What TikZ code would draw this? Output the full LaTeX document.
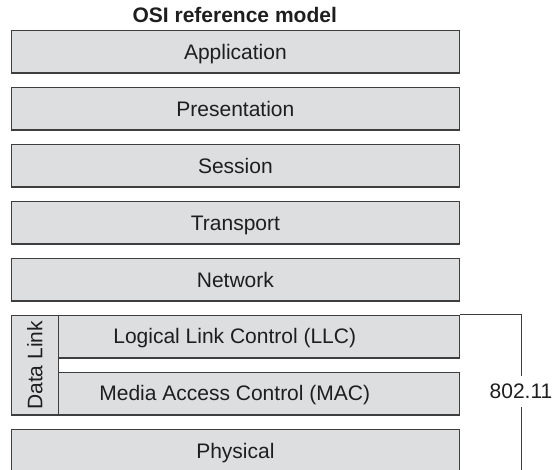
\documentclass[tikz,border=0pt]{standalone}
\usepackage{fontspec}
\setmainfont{Liberation Sans}
\definecolor{layerfill}{RGB}{221,222,224}
\definecolor{layerdraw}{RGB}{62,62,62}
\definecolor{txtcol}{RGB}{30,30,30}
\definecolor{brkcol}{RGB}{60,60,60}
\begin{document}
\begin{tikzpicture}[x=1pt,y=-1pt,
  font=\fontsize{21}{25}\selectfont,
  layer/.style={draw=layerdraw, fill=layerfill, line width=1.3pt, rectangle,
    anchor=north west, minimum height=42.5pt, inner sep=0pt},
  txt/.style={text=txtcol, text height=15pt, text depth=0pt, inner sep=0pt},
  brk/.style={draw=brkcol, line width=1pt}]
\useasboundingbox (0,0) rectangle (555,470);
\node[txt, font=\fontsize{21}{25}\selectfont\bfseries, anchor=base] (title) at (234.75,22.7) {OSI reference model};
\node[layer, minimum width=448.5pt] (app) at (10.5,30) {};
\node[txt] (appt) at (app.center) {Application};
\node[layer, minimum width=448.5pt] (pres) at (10.5,87) {};
\node[txt] (prest) at (pres.center) {Presentation};
\node[layer, minimum width=448.5pt] (sess) at (10.5,144) {};
\node[txt] (sesst) at (sess.center) {Session};
\node[layer, minimum width=448.5pt] (trans) at (10.5,201) {};
\node[txt] (transt) at (trans.center) {Transport};
\node[layer, minimum width=448.5pt] (net) at (10.5,258) {};
\node[txt] (nett) at (net.center) {Network};
\node[layer, minimum width=47.5pt, minimum height=99.5pt] (dl) at (10.5,315) {};
\node[txt, rotate=90] (dlt) at (dl.center) {Data Link};
\node[layer, minimum width=401pt] (llc) at (58,315) {};
\node[txt] (llct) at (234.75,336.25) {Logical Link Control (LLC)};
\node[layer, minimum width=401pt] (mac) at (58,372) {};
\node[txt] (mact) at (234.75,393.25) {Media Access Control (MAC)};
\node[layer, minimum width=448.5pt] (phy) at (10.5,429) {};
\node[txt] (phyt) at (phy.center) {Physical};
\node[txt, inner ysep=8pt] (std) at (521,391.5) {802.11};
\coordinate (bend) at (521,475);
\draw[brk] (llc.north east) -| (std.north);
\draw[brk] (std.south) -- (bend);
\end{tikzpicture}
\end{document}
